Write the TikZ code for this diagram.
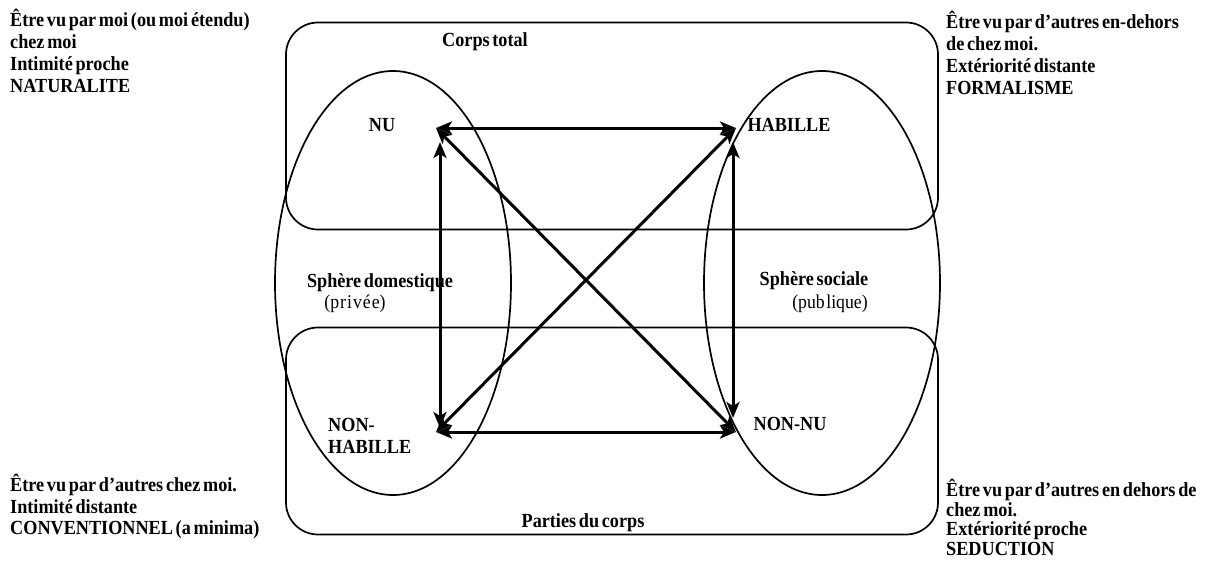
\documentclass[tikz,border=0pt]{standalone}
\usepackage{fontspec}
\setmainfont[WordSpace=0.6,FakeStretch=0.91]{Liberation Serif}
\usetikzlibrary{arrows.meta,shapes.geometric}
\tikzset{
  region/.style={draw, line width=1.7pt, inner sep=0pt},
  roundbox/.style={region, rectangle, rounded corners=32pt, minimum width=652pt, minimum height=207pt},
  oval/.style={region, ellipse, minimum width=236pt, minimum height=424pt},
  rel/.style={line width=3pt, {Stealth[length=16pt,width=13pt,inset=4pt]}-{Stealth[length=16pt,width=13pt,inset=4pt]}},
  lab/.style={font=\fontsize{20}{22}\selectfont\bfseries, inner sep=0pt},
  sub/.style={font=\fontsize{19.5}{21}\selectfont, inner sep=0pt},
  corner/.style={lab, align=left, anchor=north west}
}
\begin{document}
\begin{tikzpicture}[x=1pt,y=-1pt]
\useasboundingbox (0,0) rectangle (1210,568);
% regions
\node[roundbox] (total) at (612,126) {};
\node[roundbox] (parts) at (612,431) {};
\node[oval] (dom) at (393,283) {};
\node[oval] (soc) at (822,283) {};
% region labels
\node[lab] (ltotal) at (485,42) {Corps total};
\node[lab] (lparts) at (583,523) {Parties du corps};
\node[lab] (ldom) at (380,283) {Sphère domestique};
\node[sub] (lpriv) at (355,304) {(p\kern1pt r\kern1pt i\kern1pt v\kern1pt é\kern1pt e)};
\node[lab] (lsoc) at (814,281) {Sphère sociale};
\node[sub] (lpub) at (830,304) {(pub\kern1.5pt lique)};
% terms
\node[lab] (tnu) at (382,125) {NU};
\node[lab] (tha) at (789,125) {HABILLE};
\node[lab, align=left, anchor=north west] (tnh) at (328,418) {NON-\\HABILLE};
\node[lab] (tnn) at (790,424) {NON-NU};
% arrow ends
\coordinate (NU) at (436,128);
\coordinate (HA) at (736,128);
\coordinate (NH) at (436,432);
\coordinate (NN) at (736,432);
\coordinate (NUv) at (440,142);
\coordinate (NHv) at (440,428);
\coordinate (HAv) at (733,142);
\coordinate (NNv) at (733,418);
\draw[rel] (NU) -- (HA);
\draw[rel] (NH) -- (NN);
\draw[rel] (NUv) -- (NHv);
\draw[rel] (HAv) -- (NNv);
\draw[rel] (NU) -- (NN);
\draw[rel] (HA) -- (NH);
% corner texts
\node[corner] (ctl) at (10,9) {Être vu par moi (ou moi étendu)\\chez moi\\Intimité proche\\NATURALITE};
\node[corner] (ctr) at (946,11) {Être vu par d’autres en-dehors\\de chez moi.\\Extériorité distante\\FORMALISME};
\node[corner, font=\fontsize{20}{21.5}\selectfont\bfseries] (cbl) at (10,474) {Être vu par d’autres chez moi.\\Intimité distante\\CONVENTIONNEL (a minima)};
\node[corner, font=\fontsize{20}{19.6}\selectfont\bfseries] (cbr) at (946,479) {Être vu par d’autres en dehors de\\chez moi.\\Extériorité proche\\SEDUCTION};
\end{tikzpicture}
\end{document}
